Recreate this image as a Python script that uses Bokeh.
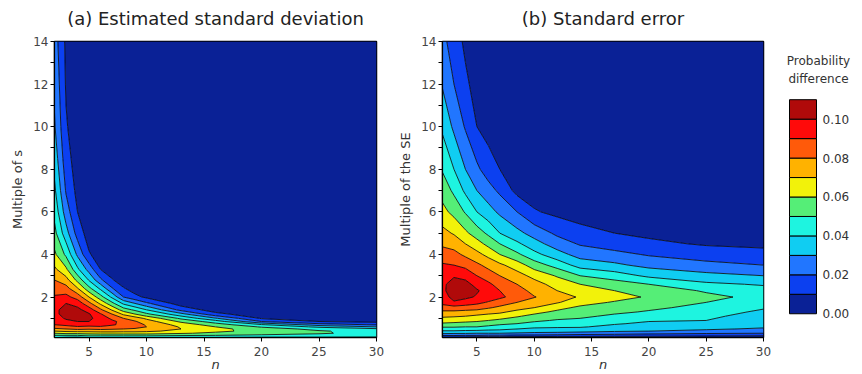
import numpy as np
from bokeh.plotting import figure
from bokeh.layouts import row
from bokeh.models import FixedTicker, Title
from bokeh.core.properties import value
from bokeh.embed import file_html
from bokeh.resources import INLINE

# ---------------- data ----------------
levels = [0.00, 0.01, 0.02, 0.03, 0.04, 0.05, 0.06, 0.07, 0.08, 0.09, 0.10, 0.11]
band_colors = ["#0a2196", "#0c40f0", "#2176ff", "#10cdf2", "#1ef4e0", "#55ee77",
               "#f2f20a", "#ffb200", "#ff5a0a", "#ff0a0a", "#b00a0a"]
cbar_ticks = [0.00, 0.02, 0.04, 0.06, 0.08, 0.10]
cbar_labels = ["0.00", "0.02", "0.04", "0.06", "0.08", "0.10"]
x_ticks = [5, 10, 15, 20, 25, 30]
y_ticks = [2, 4, 6, 8, 10, 12, 14]
y_minor = [1, 3, 5, 7, 9, 11, 13]

# (a) estimated standard deviation: rows = multiple of s, columns = n
a_n = [2, 3, 4, 5, 6, 7, 8, 9, 10, 13, 16, 20, 25, 30]
a_k = [0.1, 0.2, 0.3, 0.4, 0.5, 0.6, 0.7, 0.85, 1.0, 1.2, 1.4, 1.7, 2.0, 2.4,
       2.8, 3.3, 4.0, 5.0, 6.0, 7.0, 8.5, 10, 12, 14]
a_values = [
    [0.040, 0.038, 0.037, 0.040, 0.040, 0.040, 0.040, 0.040, 0.040, 0.039, 0.039, 0.038, 0.038, 0.038],
    [0.050, 0.050, 0.050, 0.053, 0.053, 0.053, 0.053, 0.053, 0.053, 0.051, 0.050, 0.048, 0.047, 0.045],
    [0.060, 0.062, 0.062, 0.063, 0.064, 0.064, 0.064, 0.064, 0.064, 0.061, 0.058, 0.055, 0.051, 0.047],
    [0.070, 0.072, 0.073, 0.073, 0.074, 0.074, 0.073, 0.073, 0.072, 0.067, 0.062, 0.057, 0.051, 0.046],
    [0.078, 0.080, 0.082, 0.081, 0.082, 0.081, 0.080, 0.079, 0.078, 0.070, 0.063, 0.055, 0.047, 0.042],
    [0.085, 0.087, 0.089, 0.088, 0.089, 0.087, 0.085, 0.083, 0.080, 0.069, 0.060, 0.049, 0.038, 0.030],
    [0.090, 0.092, 0.095, 0.094, 0.094, 0.091, 0.088, 0.084, 0.079, 0.066, 0.055, 0.041, 0.025, 0.019],
    [0.094, 0.098, 0.100, 0.100, 0.097, 0.092, 0.087, 0.081, 0.075, 0.058, 0.045, 0.020, 0.010, 0.007],
    [0.096, 0.101, 0.104, 0.102, 0.096, 0.088, 0.080, 0.075, 0.068, 0.048, 0.031, 0.009, 0.004, 0.003],
    [0.098, 0.103, 0.105, 0.101, 0.091, 0.080, 0.068, 0.060, 0.052, 0.033, 0.013, 0.003, 0.001, 0.001],
    [0.098, 0.103, 0.103, 0.095, 0.082, 0.069, 0.055, 0.048, 0.040, 0.017, 0.005, 0.001, 0.001, 0.001],
    [0.096, 0.100, 0.096, 0.083, 0.068, 0.053, 0.038, 0.030, 0.022, 0.005, 0.002, 0.001, 0.001, 0.001],
    [0.091, 0.093, 0.086, 0.070, 0.054, 0.038, 0.020, 0.013, 0.008, 0.002, 0.001, 0.001, 0.001, 0.001],
    [0.086, 0.084, 0.071, 0.053, 0.038, 0.021, 0.011, 0.005, 0.003, 0.001, 0.001, 0.001, 0.001, 0.001],
    [0.080, 0.074, 0.057, 0.039, 0.022, 0.011, 0.004, 0.002, 0.001, 0.001, 0.001, 0.001, 0.001, 0.001],
    [0.072, 0.062, 0.042, 0.026, 0.010, 0.004, 0.002, 0.001, 0.001, 0.001, 0.001, 0.001, 0.001, 0.001],
    [0.062, 0.048, 0.028, 0.011, 0.005, 0.002, 0.001, 0.001, 0.001, 0.001, 0.001, 0.001, 0.001, 0.001],
    [0.053, 0.034, 0.016, 0.005, 0.002, 0.001, 0.001, 0.001, 0.001, 0.001, 0.001, 0.001, 0.001, 0.001],
    [0.047, 0.025, 0.010, 0.003, 0.001, 0.001, 0.001, 0.001, 0.001, 0.001, 0.001, 0.001, 0.001, 0.001],
    [0.042, 0.019, 0.007, 0.002, 0.001, 0.001, 0.001, 0.001, 0.001, 0.001, 0.001, 0.001, 0.001, 0.001],
    [0.036, 0.014, 0.005, 0.002, 0.001, 0.001, 0.001, 0.001, 0.001, 0.001, 0.001, 0.001, 0.001, 0.001],
    [0.031, 0.011, 0.004, 0.001, 0.001, 0.001, 0.001, 0.001, 0.001, 0.001, 0.001, 0.001, 0.001, 0.001],
    [0.028, 0.009, 0.003, 0.001, 0.001, 0.001, 0.001, 0.001, 0.001, 0.001, 0.001, 0.001, 0.001, 0.001],
    [0.025, 0.008, 0.002, 0.001, 0.001, 0.001, 0.001, 0.001, 0.001, 0.001, 0.001, 0.001, 0.001, 0.001],
]

# (b) standard error: rows = multiple of the SE, columns = n
b_n = [2, 3, 4, 5, 6, 7, 8.5, 10, 12, 14, 17, 20, 25, 30]
b_k = [0.1, 0.15, 0.2, 0.3, 0.4, 0.5, 0.6, 0.75, 0.9, 1.1, 1.3, 1.5, 1.75, 2.0,
       2.3, 2.6, 3.0, 3.5, 4.0, 4.5, 5.0, 6.0, 7.0, 8.0, 10, 12, 14]
b_values = [
    [0.007, 0.006, 0.006, 0.005, 0.005, 0.005, 0.004, 0.004, 0.004, 0.003, 0.003, 0.003, 0.002, 0.002],
    [0.014, 0.014, 0.013, 0.012, 0.012, 0.012, 0.011, 0.011, 0.010, 0.010, 0.009, 0.009, 0.008, 0.007],
    [0.021, 0.021, 0.020, 0.020, 0.019, 0.019, 0.018, 0.018, 0.017, 0.016, 0.015, 0.014, 0.013, 0.012],
    [0.032, 0.031, 0.031, 0.030, 0.030, 0.030, 0.029, 0.028, 0.027, 0.026, 0.025, 0.023, 0.021, 0.020],
    [0.039, 0.039, 0.038, 0.038, 0.037, 0.037, 0.035, 0.034, 0.034, 0.033, 0.031, 0.030, 0.028, 0.025],
    [0.045, 0.045, 0.045, 0.044, 0.043, 0.042, 0.040, 0.038, 0.038, 0.037, 0.034, 0.032, 0.031, 0.029],
    [0.051, 0.051, 0.050, 0.050, 0.048, 0.046, 0.044, 0.042, 0.041, 0.041, 0.037, 0.034, 0.033, 0.031],
    [0.059, 0.058, 0.057, 0.056, 0.054, 0.052, 0.050, 0.047, 0.045, 0.044, 0.041, 0.038, 0.036, 0.032],
    [0.064, 0.064, 0.063, 0.062, 0.060, 0.058, 0.055, 0.052, 0.049, 0.048, 0.044, 0.041, 0.040, 0.034],
    [0.072, 0.071, 0.070, 0.068, 0.066, 0.065, 0.061, 0.057, 0.054, 0.052, 0.048, 0.045, 0.042, 0.036],
    [0.078, 0.078, 0.077, 0.076, 0.074, 0.072, 0.067, 0.063, 0.058, 0.055, 0.052, 0.049, 0.045, 0.038],
    [0.086, 0.086, 0.085, 0.084, 0.081, 0.078, 0.074, 0.070, 0.063, 0.058, 0.055, 0.052, 0.047, 0.041],
    [0.093, 0.099, 0.096, 0.093, 0.089, 0.085, 0.080, 0.076, 0.071, 0.064, 0.059, 0.055, 0.050, 0.044],
    [0.096, 0.103, 0.102, 0.099, 0.096, 0.092, 0.086, 0.0805, 0.0745, 0.069, 0.064, 0.0588, 0.0522, 0.0475],
    [0.098, 0.105, 0.105, 0.101, 0.096, 0.090, 0.084, 0.077, 0.070, 0.065, 0.060, 0.055, 0.049, 0.044],
    [0.098, 0.104, 0.103, 0.097, 0.092, 0.086, 0.080, 0.074, 0.066, 0.060, 0.055, 0.050, 0.042, 0.039],
    [0.096, 0.099, 0.097, 0.090, 0.085, 0.080, 0.074, 0.067, 0.059, 0.050, 0.045, 0.038, 0.033, 0.030],
    [0.091, 0.090, 0.087, 0.082, 0.077, 0.072, 0.065, 0.055, 0.046, 0.036, 0.032, 0.027, 0.023, 0.020],
    [0.085, 0.083, 0.078, 0.073, 0.067, 0.060, 0.052, 0.043, 0.034, 0.026, 0.023, 0.019, 0.015, 0.013],
    [0.078, 0.076, 0.070, 0.064, 0.057, 0.050, 0.042, 0.034, 0.025, 0.019, 0.015, 0.012, 0.009, 0.008],
    [0.073, 0.069, 0.062, 0.055, 0.048, 0.040, 0.033, 0.026, 0.018, 0.013, 0.010, 0.008, 0.005, 0.005],
    [0.063, 0.057, 0.049, 0.040, 0.034, 0.028, 0.020, 0.011, 0.0075, 0.006, 0.004, 0.003, 0.002, 0.002],
    [0.056, 0.048, 0.038, 0.030, 0.024, 0.018, 0.007, 0.005, 0.004, 0.002, 0.002, 0.001, 0.001, 0.001],
    [0.049, 0.040, 0.030, 0.022, 0.015, 0.010, 0.004, 0.003, 0.002, 0.001, 0.001, 0.001, 0.001, 0.001],
    [0.038, 0.028, 0.019, 0.010, 0.006, 0.004, 0.002, 0.001, 0.001, 0.001, 0.001, 0.001, 0.001, 0.001],
    [0.029, 0.020, 0.012, 0.006, 0.004, 0.002, 0.001, 0.001, 0.001, 0.001, 0.001, 0.001, 0.001, 0.001],
    [0.023, 0.015, 0.008, 0.004, 0.002, 0.001, 0.001, 0.001, 0.001, 0.001, 0.001, 0.001, 0.001, 0.001],
]

FONT = "DejaVu Sans"
TOP, BOTTOM = 41, 33


def panel(title, xs, ys, zs, ylabel, width, left, right):
    p = figure(width=width, height=374, x_range=(2, 30), y_range=(0.1, 14),
               output_backend="svg", toolbar_location=None,
               min_border_left=left, min_border_right=right,
               min_border_top=TOP, min_border_bottom=BOTTOM)
    p.contour(x=np.array(xs, dtype=float), y=np.array(ys, dtype=float),
              z=np.array(zs, dtype=float), levels=levels,
              fill_color=band_colors, line_color="black", line_width=0.8)
    # a thin empty spacer between the frame and the title lifts the title
    p.add_layout(Title(text=" ", text_font_size="5px", standoff=0), "above")
    p.add_layout(Title(text=title, align="center", text_font=FONT,
                       text_font_size="18px", text_font_style="normal",
                       text_color="#222222"), "above")
    p.xgrid.visible = False
    p.ygrid.visible = False
    p.outline_line_color = "black"
    p.outline_line_width = 1.5
    p.xaxis.ticker = FixedTicker(ticks=x_ticks, minor_ticks=[])
    p.yaxis.ticker = FixedTicker(ticks=y_ticks, minor_ticks=y_minor)
    p.xaxis.axis_label = "n"
    p.xaxis.axis_label_text_font_style = "italic"
    p.yaxis.axis_label = ylabel
    p.yaxis.axis_label_text_font_style = "normal"
    for ax in (p.xaxis[0], p.yaxis[0]):
        ax.axis_line_color = "black"
        ax.axis_line_width = 1.2
        ax.major_tick_line_color = "black"
        ax.minor_tick_line_color = "black"
        ax.major_tick_in = 0
        ax.major_tick_out = 4
        ax.minor_tick_in = 0
        ax.minor_tick_out = 4
        ax.major_label_text_font = FONT
        ax.major_label_text_font_size = "12px"
        ax.major_label_text_color = "#444444"
        ax.axis_label_text_font = FONT
        ax.axis_label_text_font_size = "13px"
        ax.axis_label_text_color = "#333333"
    p.xaxis.major_label_standoff = 5
    p.xaxis.axis_label_standoff = -2
    p.yaxis.major_label_standoff = 2
    p.yaxis.axis_label_standoff = 5
    return p


pa = panel("(a) Estimated standard deviation", a_n, a_k, a_values,
           "Multiple of s", 390, 54, 14)
pb = panel("(b) Standard error", b_n, b_k, b_values,
           "Multiple of the SE", 386, 52, 13)

# colour bar drawn as its own little frame
cb = figure(width=86, height=374, x_range=(0, 86), y_range=(-0.0122, 0.1399),
            output_backend="svg", toolbar_location=None,
            x_axis_location=None, y_axis_location=None,
            min_border_left=0, min_border_right=0,
            min_border_top=TOP, min_border_bottom=BOTTOM)
cb.outline_line_color = None
cb.xgrid.visible = False
cb.ygrid.visible = False
cb.quad(left=13, right=40, bottom=levels[:-1], top=levels[1:],
        fill_color=band_colors, line_color="black", line_width=1)
cb.text(x=[46] * len(cbar_ticks), y=cbar_ticks, text=cbar_labels,
        text_align="left", text_baseline="middle", text_font=value(FONT),
        text_font_size="12px", text_color="#333333")
cb.text(x=[42, 42], y=[0.1298, 0.1207], text=["Probability", "difference"],
        text_align="center", text_baseline="middle", text_font=value(FONT),
        text_font_size="12px", text_color="#333333")

layout = row(pa, pb, cb)
open("out.html", "w").write(file_html(layout, INLINE))
